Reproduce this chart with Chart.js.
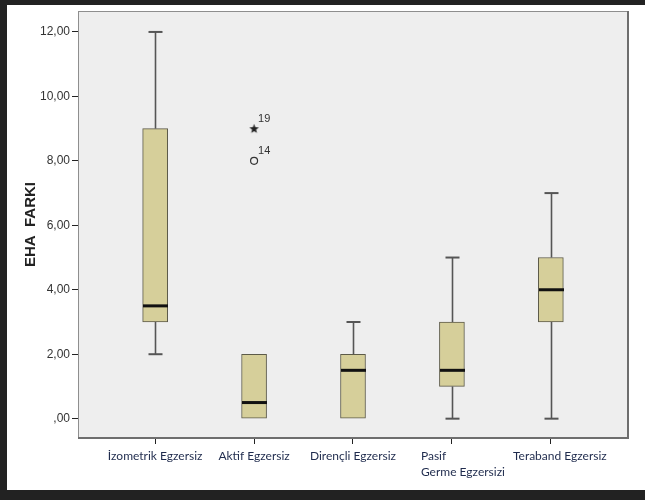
<!DOCTYPE html>
<html>
<head>
<meta charset="utf-8">
<script src="https://cdn.jsdelivr.net/npm/chart.js@4/dist/chart.umd.min.js"></script>
<style>
  html, body { margin: 0; padding: 0; background: #fff; }
  #wrap { width: 645px; height: 500px; position: relative; }
</style>
</head>
<body>
<div id="wrap"><canvas id="c" width="645" height="500"></canvas></div>
<script>
// Exercise groups and the five-number summary of EHA change in each group
const categories = ["İzometrik Egzersiz", "Aktif Egzersiz", "Dirençli Egzersiz", ["Pasif", "Germe Egzersizi"], "Teraband Egzersiz"];
const whiskerLow  = [2, 0, 0, 0, 0];
const q1          = [3, 0, 0, 1, 3];
const medians     = [3.5, 0.5, 1.5, 1.5, 4];
const q3          = [9, 2, 2, 3, 5];
const whiskerHigh = [12, 2, 3, 5, 7];

// Outlying cases (group number, value, case id, marker kind)
const outlierGroup  = [2, 2];
const outlierValues = [8, 9];
const outlierIds    = ["14", "19"];
const outlierKinds  = ["circle", "star"];

const yTicks = [0, 2, 4, 6, 8, 10, 12];

function fmtComma(v) {
  if (v === 0) return ",00";
  return v.toFixed(2).replace(".", ",");
}

// small filled star used for extreme cases
function makeStar() {
  const c = document.createElement("canvas");
  c.width = 11; c.height = 11;
  const g = c.getContext("2d");
  g.fillStyle = "#222";
  g.beginPath();
  for (let i = 0; i < 10; i++) {
    const r = i % 2 === 0 ? 5 : 2.1;
    const a = -Math.PI / 2 + i * Math.PI / 5;
    const px = 5.5 + r * Math.cos(a), py = 5.8 + r * Math.sin(a);
    if (i === 0) g.moveTo(px, py); else g.lineTo(px, py);
  }
  g.closePath();
  g.fill();
  return c;
}
const starImg = makeStar();

const boxPlugin = {
  id: "boxParts",
  beforeDraw(chart) {
    const { ctx, chartArea: a, width, height } = chart;
    ctx.save();
    ctx.fillStyle = "#ffffff";
    ctx.fillRect(0, 0, width, height);
    // dark frame around the figure
    ctx.fillStyle = "#222222";
    ctx.fillRect(0, 0, width, 5);
    ctx.fillRect(0, 0, 7, height);
    ctx.fillRect(0, 490, width, height - 490);
    // plot background
    ctx.fillStyle = "#eeeeee";
    ctx.fillRect(a.left, a.top, a.right - a.left, a.bottom - a.top);
    ctx.restore();
  },
  afterDatasetsDraw(chart) {
    const { ctx, chartArea: a } = chart;
    const xs = chart.scales.x, ys = chart.scales.y;
    const half = 12.5, cap = 7;
    ctx.save();
    for (let i = 0; i < categories.length; i++) {
      const cx = Math.round(xs.getPixelForValue(i + 1)) + 0.5;
      const yLo = ys.getPixelForValue(whiskerLow[i]);
      const yQ1 = ys.getPixelForValue(q1[i]);
      const yQ3 = ys.getPixelForValue(q3[i]);
      const yHi = ys.getPixelForValue(whiskerHigh[i]);
      const yMed = ys.getPixelForValue(medians[i]);
      ctx.strokeStyle = "#555555";
      ctx.lineWidth = 1.6;
      if (whiskerHigh[i] > q3[i]) {
        ctx.beginPath(); ctx.moveTo(cx, yQ3); ctx.lineTo(cx, yHi); ctx.stroke();
        ctx.lineWidth = 2;
        ctx.beginPath(); ctx.moveTo(cx - cap, yHi); ctx.lineTo(cx + cap, yHi); ctx.stroke();
      }
      ctx.lineWidth = 1.6;
      if (whiskerLow[i] < q1[i]) {
        ctx.beginPath(); ctx.moveTo(cx, yQ1); ctx.lineTo(cx, yLo); ctx.stroke();
        ctx.lineWidth = 2;
        ctx.beginPath(); ctx.moveTo(cx - cap, yLo); ctx.lineTo(cx + cap, yLo); ctx.stroke();
      }
      // median
      ctx.strokeStyle = "#111111";
      ctx.lineWidth = 3;
      ctx.beginPath(); ctx.moveTo(cx - half, yMed); ctx.lineTo(cx + half, yMed); ctx.stroke();
    }
    // case labels next to outliers
    ctx.fillStyle = "#333333";
    ctx.font = "11px 'Liberation Sans', Arial, sans-serif";
    ctx.textAlign = "left";
    ctx.textBaseline = "middle";
    for (let k = 0; k < outlierValues.length; k++) {
      const px = xs.getPixelForValue(outlierGroup[k]);
      const py = ys.getPixelForValue(outlierValues[k]);
      ctx.fillText(outlierIds[k], px + 4, py - 10);
    }
    // plot frame
    ctx.strokeStyle = "#8e8e8e";
    ctx.lineWidth = 1;
    ctx.strokeRect(a.left + 0.5, a.top + 0.5, a.right - a.left - 1, a.bottom - a.top - 1);
    ctx.strokeStyle = "#6e6e6e";
    ctx.lineWidth = 2;
    ctx.beginPath();
    ctx.moveTo(a.right, a.top); ctx.lineTo(a.right, a.bottom); ctx.lineTo(a.left, a.bottom);
    ctx.stroke();
    ctx.restore();
  },
  afterDraw(chart) {
    const { ctx } = chart;
    const xs = chart.scales.x;
    ctx.save();
    ctx.fillStyle = "#1f2b4d";
    ctx.font = "12px Lato, 'Open Sans', sans-serif";
    ctx.textBaseline = "middle";
    for (let i = 0; i < categories.length; i++) {
      const cx = xs.getPixelForValue(i + 1);
      const lab = categories[i];
      if (Array.isArray(lab)) {
        ctx.textAlign = "left";
        lab.forEach((line, j) => ctx.fillText(line, cx - 31, 456 + j * 16));
      } else {
        ctx.textAlign = "center";
        const shift = i === categories.length - 1 ? 9 : 0;
        ctx.fillText(lab, cx + shift, 456);
      }
    }
    ctx.restore();
  }
};

new Chart(document.getElementById("c"), {
  type: "bar",
  data: {
    datasets: [
      {
        type: "bar",
        data: categories.map((c, i) => ({ x: i + 1, y: [q1[i], q3[i]] })),
        backgroundColor: "#d6cf9a",
        borderColor: "#5c5a48",
        borderWidth: 1,
        borderSkipped: false,
        barThickness: 25
      },
      {
        type: "scatter",
        data: outlierValues.map((v, k) => ({ x: outlierGroup[k], y: v })),
        pointStyle: outlierKinds.map(k => k === "star" ? starImg : "circle"),
        pointRadius: 3.5,
        backgroundColor: "rgba(0,0,0,0)",
        borderColor: "#333333",
        borderWidth: 1.2
      }
    ]
  },
  options: {
    responsive: false,
    devicePixelRatio: 1,
    animation: false,
    layout: { padding: { left: 7, right: 17, top: 11, bottom: 0 } },
    plugins: { legend: { display: false }, tooltip: { enabled: false } },
    scales: {
      x: {
        type: "linear",
        min: 0.22,
        max: 5.78,
        offset: false,
        afterBuildTicks: s => { s.ticks = categories.map((c, i) => ({ value: i + 1 })); },
        afterFit: s => { s.height = 62; },
        ticks: { callback: () => "", padding: 0 },
        grid: { offset: false, drawOnChartArea: false, drawTicks: true, tickLength: 6, color: "#222222", lineWidth: 1 },
        border: { display: false }
      },
      y: {
        min: -0.6,
        max: 12.65,
        afterBuildTicks: s => { s.ticks = yTicks.map(v => ({ value: v })); },
        afterFit: s => { s.width = 71; },
        ticks: {
          callback: v => fmtComma(v),
          color: "#333333",
          font: { family: "'Liberation Sans', Arial, sans-serif", size: 12 },
          padding: 2
        },
        grid: { drawOnChartArea: false, drawTicks: true, tickLength: 6, color: "#222222", lineWidth: 1 },
        border: { display: false },
        title: {
          display: true,
          text: "EHA  FARKI",
          color: "#222222",
          font: { family: "'Liberation Sans', Arial, sans-serif", size: 15, weight: "bold" },
          padding: { top: 15, bottom: 0 }
        }
      }
    }
  },
  plugins: [boxPlugin]
});
</script>
</body>
</html>
